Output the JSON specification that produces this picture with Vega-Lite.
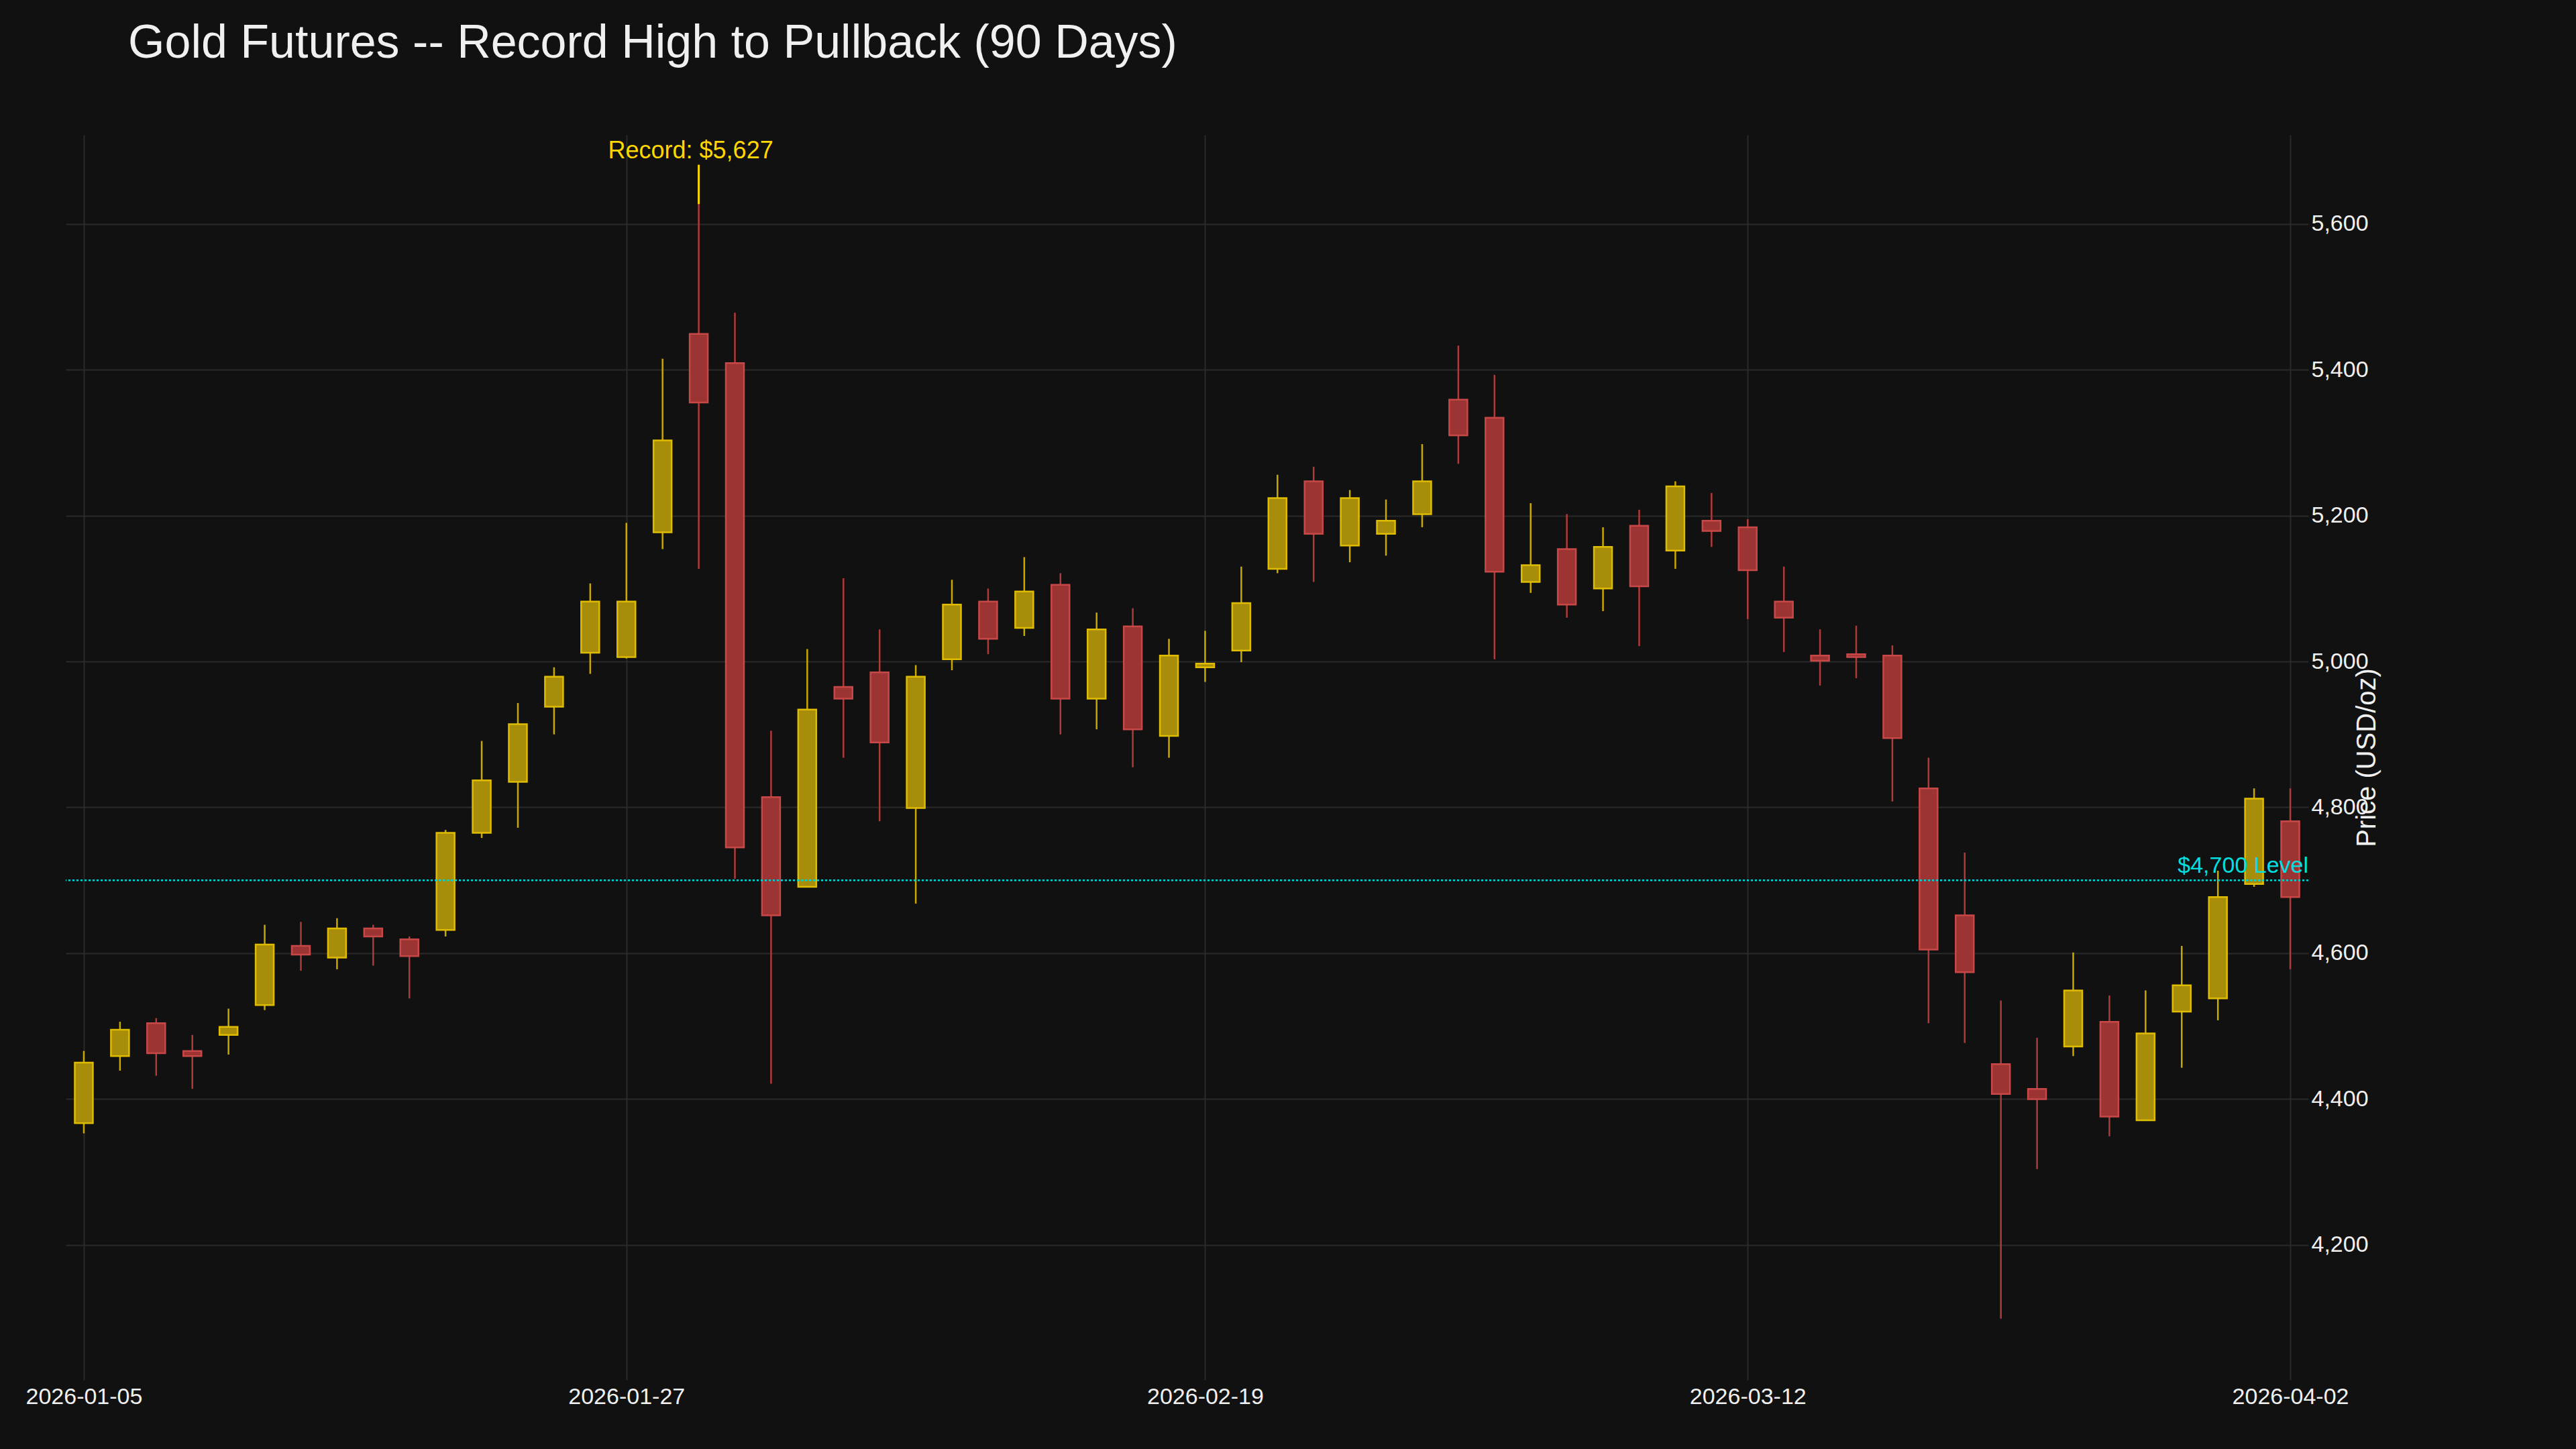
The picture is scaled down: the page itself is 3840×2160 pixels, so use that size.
{
  "$schema": "https://vega.github.io/schema/vega-lite/v6.json",
  "width": 3343,
  "height": 1856,
  "autosize": {"type": "none"},
  "padding": {"left": 98, "top": 201, "right": 399, "bottom": 103},
  "background": "#111111",
  "title": {
    "text": "Gold Futures -- Record High to Pullback (90 Days)",
    "anchor": "start",
    "frame": "group",
    "dx": 93,
    "offset": 100,
    "font": "Liberation Sans",
    "fontSize": 70,
    "fontWeight": "normal",
    "color": "#f0f0f0"
  },
  "datasets": {
    "ohlc": [
      {"d": "2026-01-05", "o": 4367, "h": 4466, "l": 4353, "c": 4450},
      {"d": "2026-01-06", "o": 4459, "h": 4506, "l": 4439, "c": 4495},
      {"d": "2026-01-07", "o": 4504, "h": 4511, "l": 4432, "c": 4463},
      {"d": "2026-01-08", "o": 4466, "h": 4488, "l": 4414, "c": 4459},
      {"d": "2026-01-09", "o": 4488, "h": 4524, "l": 4461, "c": 4499},
      {"d": "2026-01-12", "o": 4529, "h": 4639, "l": 4522, "c": 4612},
      {"d": "2026-01-13", "o": 4610, "h": 4643, "l": 4576, "c": 4598},
      {"d": "2026-01-14", "o": 4594, "h": 4648, "l": 4578, "c": 4634},
      {"d": "2026-01-15", "o": 4634, "h": 4639, "l": 4583, "c": 4623},
      {"d": "2026-01-16", "o": 4619, "h": 4623, "l": 4538, "c": 4596},
      {"d": "2026-01-20", "o": 4632, "h": 4769, "l": 4623, "c": 4765},
      {"d": "2026-01-21", "o": 4765, "h": 4891, "l": 4758, "c": 4837},
      {"d": "2026-01-22", "o": 4835, "h": 4943, "l": 4772, "c": 4914},
      {"d": "2026-01-23", "o": 4938, "h": 4992, "l": 4900, "c": 4979},
      {"d": "2026-01-26", "o": 5012, "h": 5107, "l": 4983, "c": 5082},
      {"d": "2026-01-27", "o": 5006, "h": 5190, "l": 5004, "c": 5082},
      {"d": "2026-01-28", "o": 5177, "h": 5415, "l": 5154, "c": 5303},
      {"d": "2026-01-29", "o": 5449, "h": 5627, "l": 5127, "c": 5355},
      {"d": "2026-01-30", "o": 5409, "h": 5478, "l": 4702, "c": 4745},
      {"d": "2026-02-02", "o": 4814, "h": 4905, "l": 4421, "c": 4652},
      {"d": "2026-02-03", "o": 4691, "h": 5017, "l": 4691, "c": 4934},
      {"d": "2026-02-04", "o": 4965, "h": 5114, "l": 4868, "c": 4949},
      {"d": "2026-02-05", "o": 4985, "h": 5044, "l": 4781, "c": 4889},
      {"d": "2026-02-06", "o": 4799, "h": 4995, "l": 4668, "c": 4979},
      {"d": "2026-02-09", "o": 5003, "h": 5112, "l": 4988, "c": 5078},
      {"d": "2026-02-10", "o": 5082, "h": 5100, "l": 5010, "c": 5031},
      {"d": "2026-02-11", "o": 5046, "h": 5143, "l": 5035, "c": 5096},
      {"d": "2026-02-12", "o": 5105, "h": 5121, "l": 4900, "c": 4949},
      {"d": "2026-02-13", "o": 4949, "h": 5067, "l": 4907, "c": 5044},
      {"d": "2026-02-17", "o": 5048, "h": 5073, "l": 4855, "c": 4907},
      {"d": "2026-02-18", "o": 4898, "h": 5031, "l": 4868, "c": 5008},
      {"d": "2026-02-19", "o": 4992, "h": 5042, "l": 4972, "c": 4997},
      {"d": "2026-02-20", "o": 5015, "h": 5130, "l": 4999, "c": 5080},
      {"d": "2026-02-23", "o": 5127, "h": 5256, "l": 5121, "c": 5224},
      {"d": "2026-02-24", "o": 5247, "h": 5267, "l": 5109, "c": 5175},
      {"d": "2026-02-25", "o": 5159, "h": 5235, "l": 5136, "c": 5224},
      {"d": "2026-02-26", "o": 5175, "h": 5222, "l": 5145, "c": 5193},
      {"d": "2026-02-27", "o": 5202, "h": 5298, "l": 5184, "c": 5247},
      {"d": "2026-03-02", "o": 5359, "h": 5433, "l": 5271, "c": 5310},
      {"d": "2026-03-03", "o": 5334, "h": 5393, "l": 5003, "c": 5123},
      {"d": "2026-03-04", "o": 5109, "h": 5217, "l": 5094, "c": 5132},
      {"d": "2026-03-05", "o": 5154, "h": 5202, "l": 5060, "c": 5078},
      {"d": "2026-03-06", "o": 5100, "h": 5184, "l": 5069, "c": 5157},
      {"d": "2026-03-09", "o": 5186, "h": 5208, "l": 5021, "c": 5103},
      {"d": "2026-03-10", "o": 5152, "h": 5247, "l": 5127, "c": 5240},
      {"d": "2026-03-11", "o": 5193, "h": 5231, "l": 5157, "c": 5179},
      {"d": "2026-03-12", "o": 5184, "h": 5195, "l": 5058, "c": 5125},
      {"d": "2026-03-13", "o": 5082, "h": 5130, "l": 5013, "c": 5060},
      {"d": "2026-03-16", "o": 5008, "h": 5044, "l": 4967, "c": 5001},
      {"d": "2026-03-17", "o": 5010, "h": 5049, "l": 4977, "c": 5006},
      {"d": "2026-03-18", "o": 5008, "h": 5022, "l": 4808, "c": 4895},
      {"d": "2026-03-19", "o": 4826, "h": 4868, "l": 4504, "c": 4605},
      {"d": "2026-03-20", "o": 4652, "h": 4738, "l": 4477, "c": 4574},
      {"d": "2026-03-23", "o": 4448, "h": 4535, "l": 4099, "c": 4407},
      {"d": "2026-03-24", "o": 4414, "h": 4484, "l": 4304, "c": 4400},
      {"d": "2026-03-25", "o": 4472, "h": 4601, "l": 4459, "c": 4549},
      {"d": "2026-03-26", "o": 4506, "h": 4542, "l": 4349, "c": 4376},
      {"d": "2026-03-27", "o": 4371, "h": 4549, "l": 4371, "c": 4490},
      {"d": "2026-03-30", "o": 4520, "h": 4610, "l": 4443, "c": 4556},
      {"d": "2026-03-31", "o": 4538, "h": 4713, "l": 4508, "c": 4677},
      {"d": "2026-04-01", "o": 4695, "h": 4826, "l": 4691, "c": 4812},
      {"d": "2026-04-02", "o": 4781, "h": 4826, "l": 4578, "c": 4677}
    ]
  },
  "encoding": {
    "x": {
      "field": "d",
      "type": "ordinal",
      "sort": null,
      "scale": {"type": "point", "padding": 0.5},
      "axis": {
        "title": null,
        "values": ["2026-01-05", "2026-01-27", "2026-02-19", "2026-03-12", "2026-04-02"],
        "labelAngle": 0,
        "labelFont": "Liberation Sans",
        "labelFontSize": 34,
        "labelColor": "#f0f0f0",
        "labelPadding": 8,
        "ticks": false,
        "domain": false,
        "grid": true,
        "gridColor": "#2a2a2a",
        "gridWidth": 2
      }
    }
  },
  "layer": [
    {
      "data": {"name": "ohlc"},
      "mark": {"type": "rule", "strokeWidth": 2.5},
      "encoding": {
        "y": {
          "field": "l",
          "type": "quantitative",
          "scale": {"domain": [4015, 5722], "nice": false, "zero": false},
          "axis": {
            "orient": "right",
            "values": [4200, 4400, 4600, 4800, 5000, 5200, 5400, 5600],
            "title": "Price (USD/oz)",
            "titleAngle": 270,
            "titleFont": "Liberation Sans",
            "titleFontSize": 40,
            "titleFontWeight": "normal",
            "titleColor": "#f0f0f0",
            "titlePadding": 18,
            "labelFont": "Liberation Sans",
            "labelFontSize": 34,
            "labelColor": "#f0f0f0",
            "labelPadding": 4,
            "ticks": false,
            "domain": false,
            "grid": true,
            "gridColor": "#2a2a2a",
            "gridWidth": 2
          }
        },
        "y2": {"field": "h"},
        "color": {
          "condition": {"test": "datum.c >= datum.o", "value": "#c9a800"},
          "value": "#b03a3a"
        }
      }
    },
    {
      "data": {"name": "ohlc"},
      "mark": {"type": "bar", "size": 27, "strokeWidth": 2.5},
      "encoding": {
        "y": {"field": "o", "type": "quantitative"},
        "y2": {"field": "c"},
        "fill": {
          "condition": {"test": "datum.c >= datum.o", "value": "#a88d0a"},
          "value": "#9c3434"
        },
        "stroke": {
          "condition": {"test": "datum.c >= datum.o", "value": "#e0bc00"},
          "value": "#c84848"
        }
      }
    },
    {
      "data": {"values": [{"y": 4700}]},
      "mark": {"type": "rule", "color": "#00d8d8", "strokeWidth": 2.5, "strokeDash": [3, 3]},
      "encoding": {"y": {"field": "y", "type": "quantitative"}, "x": null}
    },
    {
      "data": {"values": [{"d": "2026-04-02", "y": 4700, "t": "$4,700 Level"}]},
      "mark": {"type": "text", "align": "right", "baseline": "bottom", "dx": 27, "dy": -4, "font": "Liberation Sans", "fontSize": 34, "color": "#00e0e0"},
      "encoding": {"y": {"field": "y", "type": "quantitative"}, "text": {"field": "t"}}
    },
    {
      "data": {"values": [{"d": "2026-01-29", "y": 5627, "y2": 5681}]},
      "mark": {"type": "rule", "color": "#ffd700", "strokeWidth": 3},
      "encoding": {"y": {"field": "y", "type": "quantitative"}, "y2": {"field": "y2"}}
    },
    {
      "data": {"values": [{"d": "2026-01-29", "y": 5700, "t": "Record: $5,627"}]},
      "mark": {"type": "text", "align": "center", "baseline": "middle", "dx": -12, "font": "Liberation Sans", "fontSize": 36, "color": "#ffd700"},
      "encoding": {"y": {"field": "y", "type": "quantitative"}, "text": {"field": "t"}}
    }
  ],
  "config": {"view": {"stroke": null}}
}
